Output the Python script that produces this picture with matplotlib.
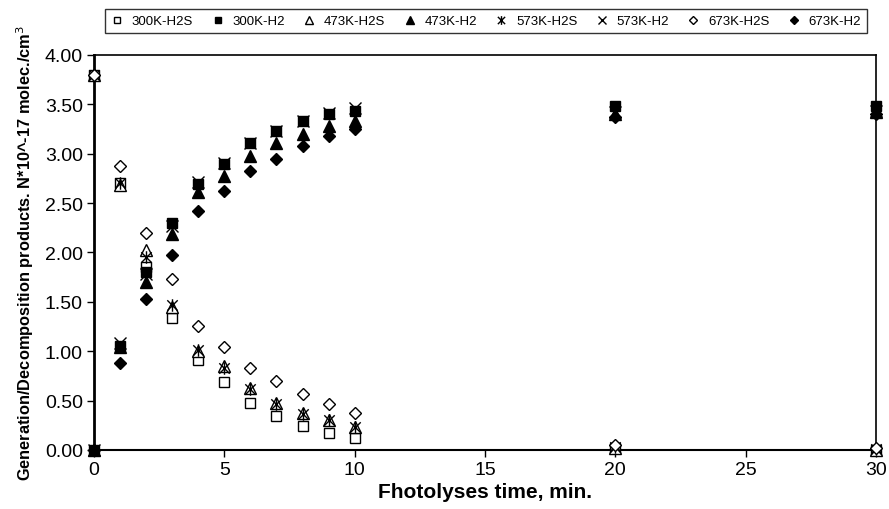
import numpy as np
import matplotlib
matplotlib.use("Agg")
import matplotlib.pyplot as plt
from matplotlib.path import Path
from matplotlib.ticker import FormatStrFormatter

plt.rcParams['font.family'] = ['Liberation Sans', 'DejaVu Sans']

# photolysis time, min
time = [0, 1, 2, 3, 4, 5, 6, 7, 8, 9, 10, 20, 30]

# concentrations, N*10^-17 molec./cm3
h2s_300 = [3.80, 2.70, 1.85, 1.34, 0.91, 0.69, 0.48, 0.34, 0.24, 0.17, 0.12, 0.02, 0.00]
h2_300 = [0.00, 1.05, 1.80, 2.30, 2.69, 2.90, 3.11, 3.23, 3.33, 3.40, 3.43, 3.48, 3.48]
h2s_473 = [3.80, 2.68, 2.03, 1.45, 1.00, 0.85, 0.63, 0.48, 0.37, 0.30, 0.23, 0.02, 0.00]
h2_473 = [0.00, 1.04, 1.70, 2.19, 2.61, 2.77, 2.98, 3.11, 3.20, 3.28, 3.33, 3.40, 3.42]
h2s_573 = [3.80, 2.70, 1.95, 1.47, 1.01, 0.83, 0.62, 0.47, 0.36, 0.30, 0.23, 0.03, 0.01]
h2_573 = [0.00, 1.08, 1.78, 2.27, 2.71, 2.91, 3.11, 3.23, 3.33, 3.41, 3.46, 3.42, 3.43]
h2s_673 = [3.80, 2.88, 2.20, 1.73, 1.26, 1.04, 0.83, 0.70, 0.57, 0.47, 0.37, 0.05, 0.02]
h2_673 = [0.00, 0.88, 1.53, 1.97, 2.42, 2.62, 2.83, 2.95, 3.08, 3.18, 3.25, 3.37, 3.40]

labels = ['300K-H2S', '300K-H2', '473K-H2S', '473K-H2',
          '573K-H2S', '573K-H2', '673K-H2S', '673K-H2']

# excel style asterisk: an x with a vertical bar through it
ast = Path([(-1, -1), (1, 1), (-1, 1), (1, -1), (0, -1.2), (0, 1.2)],
           [Path.MOVETO, Path.LINETO, Path.MOVETO, Path.LINETO, Path.MOVETO, Path.LINETO])

series = [
    (h2s_300, 's', 'white', 7),
    (h2_300, 's', 'black', 6.5),
    (h2s_473, '^', 'white', 8),
    (h2_473, '^', 'black', 8),
    (h2s_573, ast, 'none', 9),
    (h2_573, 'x', 'none', 8),
    (h2s_673, 'D', 'white', 6),
    (h2_673, 'D', 'black', 6),
]

fig = plt.figure(figsize=(8.89, 5.10), dpi=100)
ax = fig.add_axes([0.1057, 0.1157, 0.8797, 0.7745])

handles = []
for (vals, mk, fc, ms), lab in zip(series, labels):
    h, = ax.plot(time, vals, linestyle='none', marker=mk, markersize=ms,
                 markerfacecolor=fc, markeredgecolor='black', markeredgewidth=1.0,
                 label=lab, clip_on=False, zorder=3)
    handles.append(h)

ax.set_xlim(0, 30)
ax.set_ylim(0, 4)
ax.set_xticks([0, 5, 10, 15, 20, 25, 30])
ax.set_yticks(np.arange(0, 4.01, 0.5))
ax.yaxis.set_major_formatter(FormatStrFormatter('%.2f'))
ax.tick_params(direction='out', length=5, width=1, labelsize=14, colors='black', pad=3)
ax.spines['left'].set_linewidth(2)
ax.spines['bottom'].set_linewidth(1.5)
ax.spines['top'].set_linewidth(1.2)
ax.spines['right'].set_linewidth(1.2)

ax.set_xlabel('Fhotolyses time, min.', fontsize=15, fontweight='bold', labelpad=3)
ax.set_ylabel('Generation/Decomposition products. N*10^-17 molec./cm$^3$',
              fontsize=11.8, fontweight='bold', labelpad=6)

fig.legend(handles=handles, labels=labels, loc='upper left',
           bbox_to_anchor=(0.118, 0.931, 0.857, 0.049), mode='expand',
           borderaxespad=0, ncol=8, fontsize=9.5, frameon=True, fancybox=False,
           edgecolor='black', markerscale=0.7, handlelength=1.0, handletextpad=0.6,
           borderpad=0.45, columnspacing=0.8)

fig.savefig('out.png', dpi=100)
